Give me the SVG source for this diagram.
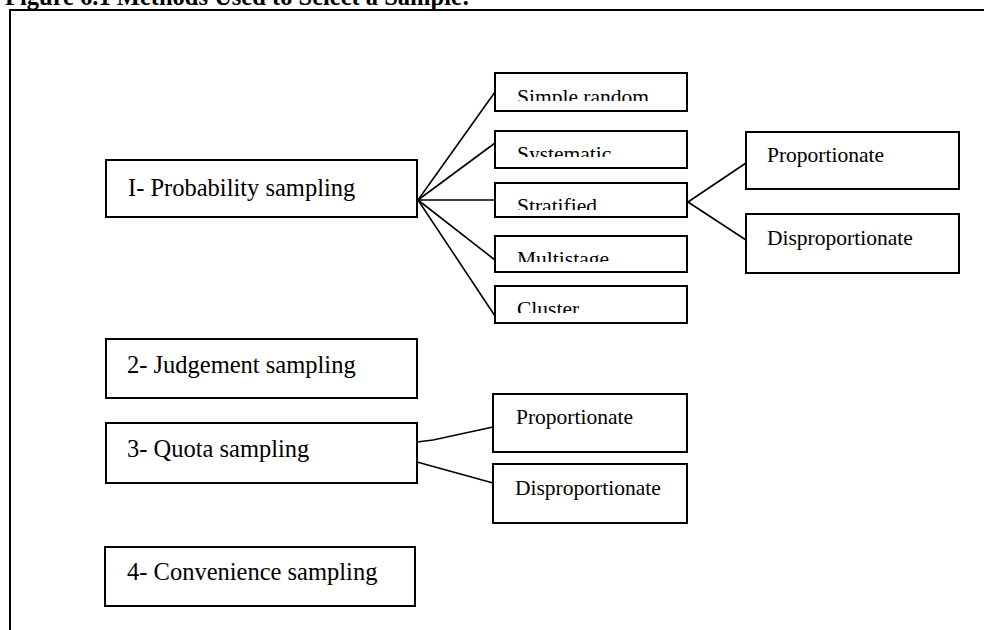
<svg xmlns="http://www.w3.org/2000/svg" width="984" height="630" viewBox="0 0 984 630">
  <style>
    .box { fill: #ffffff; stroke: #000000; stroke-width: 2; }
    .link { fill: none; stroke: #000000; stroke-width: 1.6; }
    .main { font-family: "Liberation Serif", "Times New Roman", serif; font-size: 24.5px; fill: #000000; }
    .sub { font-family: "Liberation Serif", "Times New Roman", serif; font-size: 21.5px; fill: #000000; }
    .title { font-family: "Liberation Serif", "Times New Roman", serif; font-size: 24.5px; font-weight: bold; fill: #000000; }
  </style>
  <defs>
    <!-- labels of the narrow method boxes are cut off just below the text line -->
    <clipPath id="clip-simple"><rect x="495" y="73" width="192" height="28"/></clipPath>
    <clipPath id="clip-systematic"><rect x="495" y="131" width="192" height="26"/></clipPath>
    <clipPath id="clip-stratified"><rect x="495" y="183" width="192" height="27"/></clipPath>
    <clipPath id="clip-multistage"><rect x="495" y="236" width="192" height="26"/></clipPath>
    <clipPath id="clip-cluster"><rect x="495" y="286" width="192" height="27"/></clipPath>
  </defs>

  <rect x="0" y="0" width="984" height="630" fill="#ffffff"/>

  <!-- title and frame -->
  <text class="title" x="5" y="5">Figure 6.1 Methods Used to Select a Sample:</text>
  <path d="M10 630 V10 H984" fill="none" stroke="#000000" stroke-width="2"/>

  <g id="connectors">
    <line class="link" x1="418" y1="200" x2="495" y2="92"/>
    <line class="link" x1="418" y1="200" x2="495" y2="143"/>
    <line class="link" x1="418" y1="200" x2="495" y2="200"/>
    <line class="link" x1="418" y1="200" x2="495" y2="260"/>
    <line class="link" x1="418" y1="200" x2="495" y2="316"/>
    <line class="link" x1="688" y1="202" x2="746" y2="163"/>
    <line class="link" x1="688" y1="202" x2="746" y2="240"/>
    <polyline class="link" points="417,442 433,440 493,427"/>
    <line class="link" x1="417" y1="462" x2="493" y2="483"/>
  </g>

  <g id="probability">
    <rect class="box" x="106" y="160" width="311" height="57"/>
    <text class="main" x="128" y="196">I- Probability sampling</text>
  </g>
  <g id="simple-random">
    <rect class="box" x="495" y="73" width="192" height="38"/>
    <text class="sub" x="517" y="104" clip-path="url(#clip-simple)">Simple random</text>
  </g>
  <g id="systematic">
    <rect class="box" x="495" y="131" width="192" height="37"/>
    <text class="sub" x="517" y="161" clip-path="url(#clip-systematic)">Systematic</text>
  </g>
  <g id="stratified">
    <rect class="box" x="495" y="183" width="192" height="34"/>
    <text class="sub" x="517" y="213" clip-path="url(#clip-stratified)">Stratified</text>
  </g>
  <g id="multistage">
    <rect class="box" x="495" y="236" width="192" height="36"/>
    <text class="sub" x="517" y="266" clip-path="url(#clip-multistage)">Multistage</text>
  </g>
  <g id="cluster">
    <rect class="box" x="495" y="286" width="192" height="37"/>
    <text class="sub" x="517" y="316" clip-path="url(#clip-cluster)">Cluster</text>
  </g>
  <g id="stratified-proportionate">
    <rect class="box" x="746" y="132" width="213" height="57"/>
    <text class="sub" x="767" y="162">Proportionate</text>
  </g>
  <g id="stratified-disproportionate">
    <rect class="box" x="746" y="214" width="213" height="59"/>
    <text class="sub" x="767" y="245">Disproportionate</text>
  </g>
  <g id="judgement">
    <rect class="box" x="106" y="339" width="311" height="59"/>
    <text class="main" x="127" y="373">2- Judgement sampling</text>
  </g>
  <g id="quota">
    <rect class="box" x="106" y="423" width="311" height="60"/>
    <text class="main" x="127" y="457">3- Quota sampling</text>
  </g>
  <g id="quota-proportionate">
    <rect class="box" x="493" y="394" width="194" height="58"/>
    <text class="sub" x="516" y="424">Proportionate</text>
  </g>
  <g id="quota-disproportionate">
    <rect class="box" x="493" y="464" width="194" height="59"/>
    <text class="sub" x="515" y="495">Disproportionate</text>
  </g>
  <g id="convenience">
    <rect class="box" x="105" y="547" width="310" height="59"/>
    <text class="main" x="127" y="580">4- Convenience sampling</text>
  </g>
</svg>
